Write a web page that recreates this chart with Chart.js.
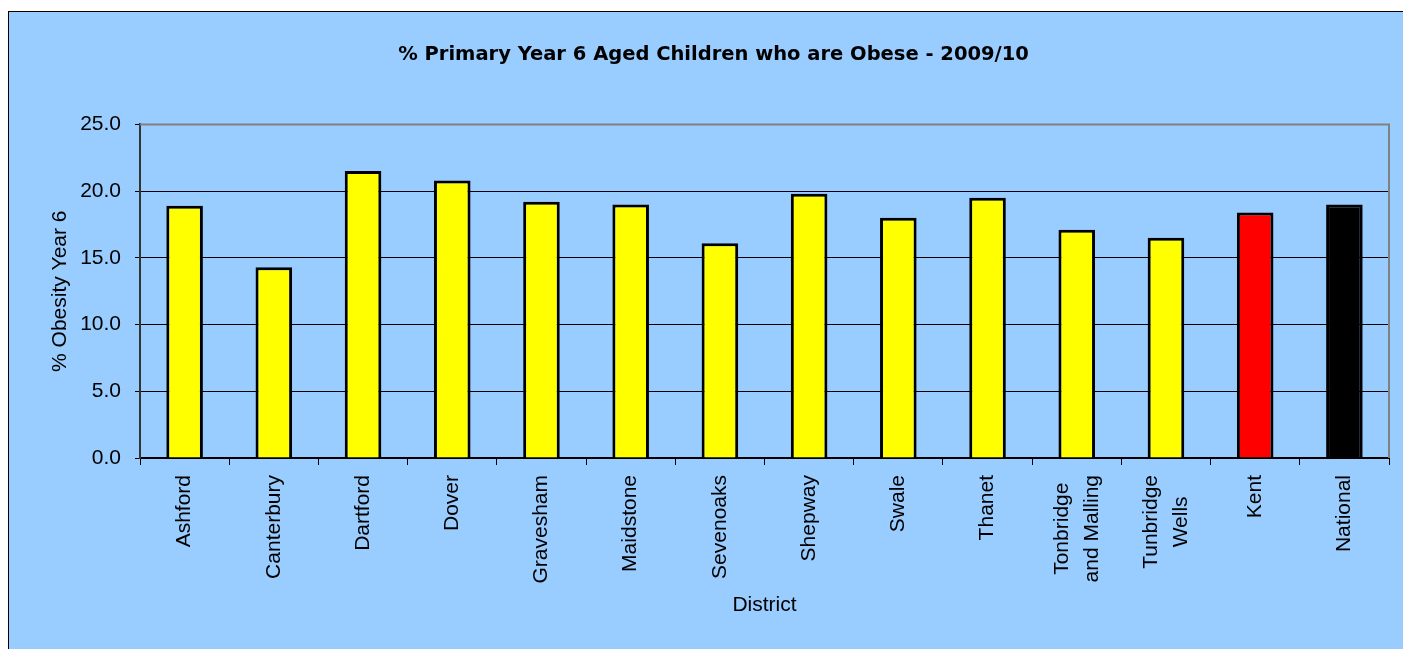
<!DOCTYPE html>
<html><head><meta charset="utf-8">
<script src="https://cdn.jsdelivr.net/npm/chart.js@4.4.0/dist/chart.umd.min.js"></script>
<style>
html,body{margin:0;padding:0;background:#fff;overflow:hidden;width:1403px;height:649px;}
#frame{position:absolute;left:8px;top:11px;width:1420px;height:660px;border:1px solid #000;background:#99CCFF;}
#wrap{position:absolute;left:0;top:0;width:1403px;height:649px;}
</style></head><body>
<div id="frame"></div>
<div id="wrap"><canvas id="c" width="1403" height="649"></canvas></div>
<script>
// ---- data ----
const chartTitle = '% Primary Year 6 Aged Children who are Obese - 2009/10';
const yAxisTitle = '% Obesity Year 6';
const xAxisTitle = 'District';
const categories = [
  ['Ashford'], ['Canterbury'], ['Dartford'], ['Dover'], ['Gravesham'],
  ['Maidstone'], ['Sevenoaks'], ['Shepway'], ['Swale'], ['Thanet'],
  ['Tonbridge', 'and Malling'], ['Tunbridge', 'Wells'], ['Kent'], ['National']
];
const obesityPct = [18.9, 14.3, 21.5, 20.8, 19.2, 19.0, 16.1, 19.8, 18.0, 19.5, 17.1, 16.5, 18.4, 19.0];
const yMin = 0, yMax = 25, yStep = 5;

// ---- styles ----
const barColors = ['#FFFF00','#FFFF00','#FFFF00','#FFFF00','#FFFF00','#FFFF00','#FFFF00',
                   '#FFFF00','#FFFF00','#FFFF00','#FFFF00','#FFFF00','#FF0000','#000000'];
const FONT = '"Liberation Sans", Arial, sans-serif';

const xLabelPlugin = {
  id: 'xLabels',
  afterDraw(chart) {
    const ctx = chart.ctx, xs = chart.scales.x;
    const top = xs.top + 17;
    ctx.save();
    ctx.font = '21px ' + FONT;
    ctx.fillStyle = '#000';
    ctx.textBaseline = 'middle';
    ctx.textAlign = 'center';
    categories.forEach((lines, i) => {
      const x = xs.getPixelForTick(i);
      const w = Math.max(...lines.map(l => ctx.measureText(l).width));
      ctx.save();
      ctx.translate(x, top);
      ctx.rotate(-Math.PI / 2);
      lines.forEach((l, j) => {
        ctx.fillText(l, -w / 2, (j - (lines.length - 1) / 2) * 30);
      });
      ctx.restore();
    });
    ctx.restore();
  }
};

const plotBorderPlugin = {
  id: 'plotBorder',
  afterDatasetsDraw(chart) {
    const {ctx, chartArea: a} = chart;
    ctx.save();
    ctx.strokeStyle = '#808080';
    ctx.lineWidth = 2;
    ctx.beginPath();
    ctx.moveTo(a.left, a.top);
    ctx.lineTo(a.right, a.top);
    ctx.lineTo(a.right, a.bottom);
    ctx.stroke();
    ctx.restore();
  }
};

new Chart(document.getElementById('c'), {
  type: 'bar',
  data: {
    labels: categories.map(l => l.join(' ')),
    datasets: [{
      data: obesityPct,
      backgroundColor: barColors,
      borderColor: '#000',
      borderWidth: 3,
      barPercentage: 0.41,
      categoryPercentage: 1.0
    }]
  },
  options: {
    responsive: false,
    animation: false,
    layout: { padding: { left: 38, right: 14, top: 0, bottom: 0 } },
    plugins: {
      legend: { display: false },
      tooltip: { enabled: false },
      title: {
        display: true,
        text: chartTitle,
        color: '#000',
        font: { family: '"DejaVu Sans", Verdana, sans-serif', size: 19.5, weight: 'bold' },
        padding: { top: 43, bottom: 58 }
      }
    },
    scales: {
      x: {
        offset: true,
        afterFit(scale) { scale.height = 191; },
        grid: { offset: true, drawOnChartArea: false, drawTicks: true, tickLength: 7, color: '#000', lineWidth: 1 },
        border: { display: true, color: '#000', width: 2 },
        ticks: { display: false },
        title: { display: true, text: xAxisTitle, color: '#000', font: { family: FONT, size: 21 }, padding: { top: 0, bottom: 31 } }
      },
      y: {
        min: yMin, max: yMax,
        afterFit(scale) { scale.width = 102; },
        ticks: { stepSize: yStep, color: '#000', font: { family: FONT, size: 21 }, padding: 14,
                 callback: v => Number(v).toFixed(1) },
        grid: { color: '#000', lineWidth: 1, drawTicks: true, tickLength: 5 },
        border: { display: true, color: '#333', width: 2 },
        title: { display: true, text: yAxisTitle, color: '#000', font: { family: FONT, size: 21 }, padding: { top: 9.4, bottom: 0 } }
      }
    }
  },
  plugins: [plotBorderPlugin, xLabelPlugin]
});
</script>
</body></html>
